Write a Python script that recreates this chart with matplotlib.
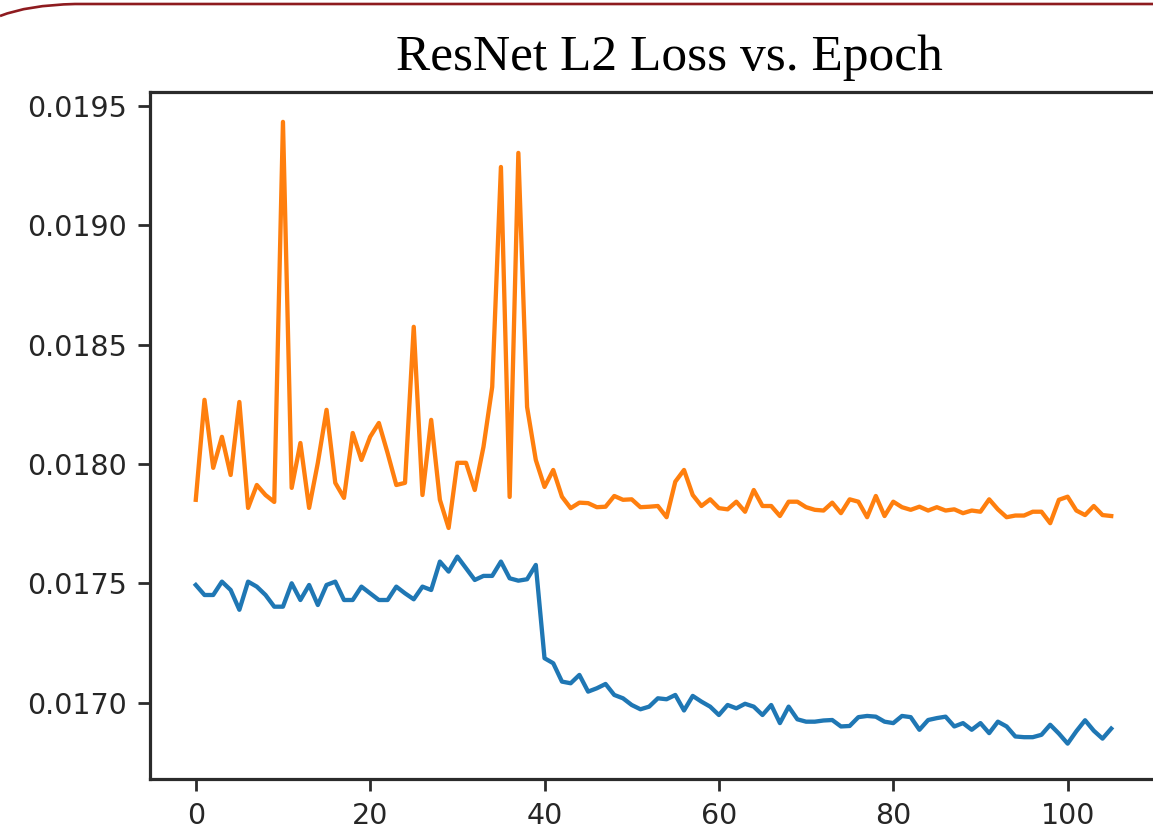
import numpy as np
import matplotlib
matplotlib.use("Agg")
import matplotlib.pyplot as plt
from matplotlib.path import Path
from matplotlib.patches import PathPatch
from matplotlib.ticker import FormatStrFormatter

# ── data ────────────────────────────────────────────────────────────────────
epochs = np.arange(106)

train_loss = [
    0.017493, 0.017451, 0.017451, 0.017507, 0.017472, 0.017389, 0.017507, 0.017486,
    0.017451, 0.017402, 0.017402, 0.017500, 0.017430, 0.017493, 0.017409, 0.017493,
    0.017507, 0.017430, 0.017430, 0.017486, 0.017458, 0.017430, 0.017430, 0.017486,
    0.017458, 0.017433, 0.017486, 0.017472, 0.017591, 0.017549, 0.017612, 0.017563,
    0.017514, 0.017531, 0.017531, 0.017591, 0.017521, 0.017511, 0.017517, 0.017577,
    0.017186, 0.017165, 0.017088, 0.017081, 0.017116, 0.017046, 0.017060, 0.017078,
    0.017032, 0.017018, 0.016990, 0.016972, 0.016983, 0.017018, 0.017014, 0.017032,
    0.016967, 0.017028, 0.017004, 0.016983, 0.016948, 0.016990, 0.016976, 0.016995,
    0.016983, 0.016948, 0.016990, 0.016914, 0.016983, 0.016930, 0.016920, 0.016920,
    0.016925, 0.016927, 0.016900, 0.016902, 0.016939, 0.016944, 0.016941, 0.016920,
    0.016914, 0.016944, 0.016939, 0.016886, 0.016927, 0.016935, 0.016941, 0.016900,
    0.016914, 0.016886, 0.016914, 0.016872, 0.016920, 0.016900, 0.016858, 0.016855,
    0.016855, 0.016865, 0.016907, 0.016870, 0.016828, 0.016880, 0.016926, 0.016882,
    0.016849, 0.016891,
]

val_loss = [
    0.017850, 0.018269, 0.017984, 0.018114, 0.017954, 0.018260, 0.017816, 0.017912,
    0.017870, 0.017841, 0.019434, 0.017900, 0.018088, 0.017816, 0.018005, 0.018227,
    0.017921, 0.017858, 0.018130, 0.018017, 0.018114, 0.018172, 0.018046, 0.017912,
    0.017921, 0.018575, 0.017870, 0.018185, 0.017850, 0.017732, 0.018005, 0.018005,
    0.017891, 0.018072, 0.018323, 0.019245, 0.017862, 0.019304, 0.018239, 0.018017,
    0.017904, 0.017975, 0.017863, 0.017815, 0.017838, 0.017836, 0.017819, 0.017821,
    0.017866, 0.017850, 0.017852, 0.017819, 0.017821, 0.017824, 0.017777, 0.017926,
    0.017975, 0.017870, 0.017824, 0.017852, 0.017815, 0.017810, 0.017842, 0.017800,
    0.017891, 0.017824, 0.017824, 0.017782, 0.017842, 0.017842, 0.017819, 0.017808,
    0.017805, 0.017838, 0.017794, 0.017852, 0.017842, 0.017777, 0.017866, 0.017782,
    0.017842, 0.017819, 0.017808, 0.017821, 0.017805, 0.017819, 0.017805, 0.017810,
    0.017794, 0.017805, 0.017800, 0.017852, 0.017810, 0.017777, 0.017784, 0.017784,
    0.017800, 0.017800, 0.017752, 0.017850, 0.017863, 0.017805, 0.017786, 0.017824,
    0.017786, 0.017782,
]

x_ticks = [0, 20, 40, 60, 80, 100]
y_ticks = [0.0170, 0.0175, 0.0180, 0.0185, 0.0190, 0.0195]
title = "ResNet L2 Loss vs. Epoch"

# ── figure ──────────────────────────────────────────────────────────────────
W, H = 1153, 832
fig = plt.figure(figsize=(W / 100, H / 100), dpi=100)
fig.patch.set_facecolor("white")

# slide decoration: dark red curved rule at the top left
verts = [(0 / W, 1 - 16 / H), (28 / W, 1 - 5 / H), (75 / W, 1 - 4 / H), (W / W, 1 - 4 / H)]
codes = [Path.MOVETO, Path.CURVE3, Path.CURVE3, Path.LINETO]
fig.patches.append(PathPatch(Path(verts, codes), transform=fig.transFigure,
                             facecolor="none", edgecolor="#8e1b1f", linewidth=1.9))

ax = fig.add_axes([150 / W, 1 - 778.7 / H, 1007 / W, (778.7 - 92.3) / H])
ax.plot(epochs, train_loss, color="#1f77b4", linewidth=3.1)
ax.plot(epochs, val_loss, color="#ff7f0e", linewidth=3.1)

ax.set_xlim(-5.25, 110.25)
ax.set_ylim(0.016681, 0.019558)
ax.set_xticks(x_ticks)
ax.set_yticks(y_ticks)
ax.yaxis.set_major_formatter(FormatStrFormatter("%.4f"))

for side in ax.spines.values():
    side.set_color("#2b2b2b")
    side.set_linewidth(2.3)
ax.tick_params(axis="both", length=8.6, width=2.0, color="#2b2b2b",
               labelsize=20.5, labelcolor="#262626", pad=8)

fig.text(669 / W, 1 - 70 / H, title, family="Liberation Serif", fontsize=37,
         ha="center", va="baseline", color="black")

fig.savefig("out.png", dpi=100)
